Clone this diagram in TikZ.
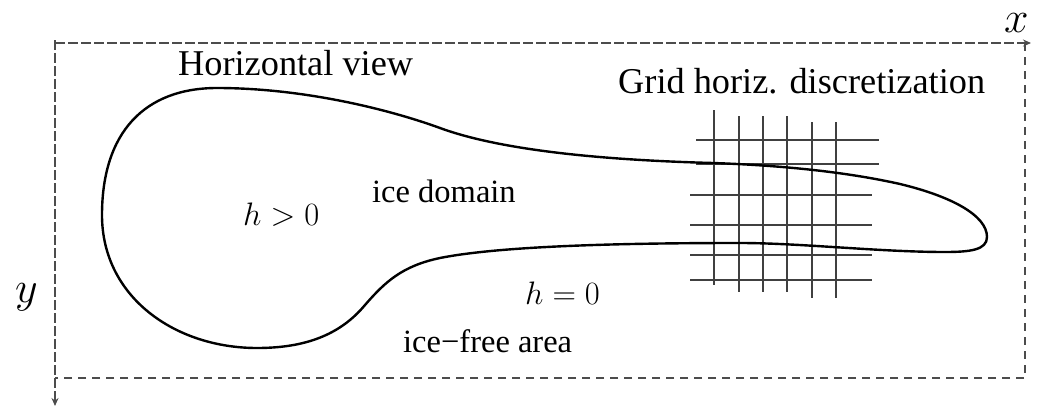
\documentclass[tikz,border=0pt]{standalone}
\usepackage{fix-cm}
\usepackage{fontspec}
\setmainfont{Liberation Serif}
\usetikzlibrary{arrows.meta}
\begin{document}
\begin{tikzpicture}[x=1pt,y=-1pt,
 axis/.style={draw=black!70, line width=1.3pt, dash pattern=on 10pt off 3pt},
 boxline/.style={draw=black!70, line width=1.3pt, dash pattern=on 8pt off 6pt},
 gridline/.style={draw=black!75, line width=1.3pt},
 coast/.style={draw=black, line width=2.4pt},
 title/.style={font=\fontsize{36.3}{40}\selectfont, inner sep=0pt, anchor=base west},
 lbl/.style={font=\fontsize{32.5}{36}\selectfont, inner sep=0pt, anchor=base west},
 axlbl/.style={font=\fontsize{44}{48}\selectfont, inner sep=0pt, anchor=base west},
]
\useasboundingbox (0,0) rectangle (1042,407);
% frame and axes
\coordinate (o) at (55,40);
\coordinate (xend) at (1031,43);
\coordinate (xst) at (55,43);
\coordinate (yend) at (55,406);
\coordinate (tr) at (1025,43);
\coordinate (br) at (1025,378);
\coordinate (bl) at (55,378);
\draw[axis, -{Stealth[length=8pt,width=7pt]}] (xst) -- (xend);
\draw[axis, -{Stealth[length=8pt,width=7pt]}] (o) -- (yend);
\draw[boxline] (tr) -- (br) -- (bl);
% axis labels
\node[axlbl] (xl) at (1004,32) {$x$};
\node[axlbl] (yl) at (15,302) {$y$};
% grid
\foreach \gx/\ya/\yb in {714/110/285, 739/116/292, 763/116/292, 787/116/292, 812/122/298, 836/122/298}
  \draw[gridline] (\gx,\ya) -- (\gx,\yb);
\foreach \gy/\xa/\xb in {140/696/879, 164/696/879, 195/690/872, 225/690/872, 255/690/872, 280/690/872}
  \draw[gridline] (\xa,\gy) -- (\xb,\gy);
% ice boundary
\draw[coast] (102,215)
  .. controls (102,132) and (145,88) .. (217,88)
  .. controls (300,88) and (385,108) .. (440,128)
  .. controls (500,150) and (600,160) .. (713,163)
  .. controls (800,166) and (860,175) .. (900,184)
  .. controls (950,196) and (987,215) .. (987,237)
  .. controls (987,250) and (970,252) .. (945,252)
  .. controls (880,252) and (800,243) .. (740,243)
  .. controls (620,243) and (500,246) .. (440,258)
  .. controls (402,266) and (385,282) .. (365,305)
  .. controls (340,335) and (305,348) .. (257,348)
  .. controls (175,348) and (102,297) .. cycle;
% texts
\node[title] (hview) at (178,75) {Horizontal view};
\node[title] (grid) at (618,93) {Grid horiz. discretization};
\node[lbl] (dom) at (372,202) {ice domain};
\node[lbl] (hpos) at (243,225) {$h>0$};
\node[lbl] (hzero) at (525,304) {$h=0$};
\node[lbl] (free) at (403,352) {ice−free area};
\end{tikzpicture}
\end{document}
